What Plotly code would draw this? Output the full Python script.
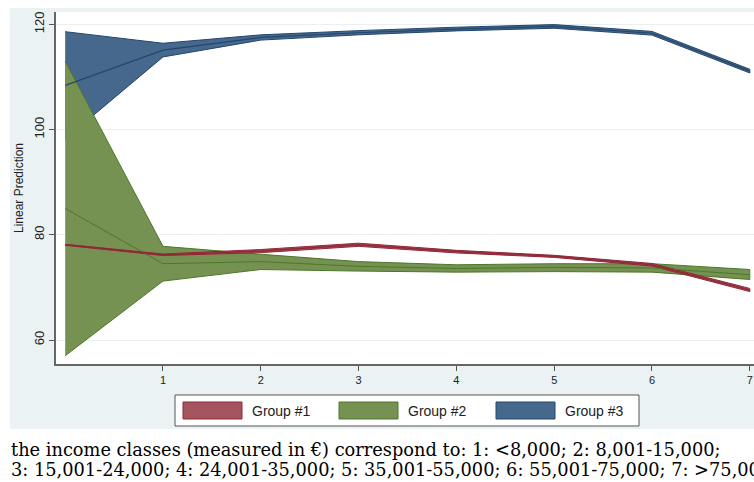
import plotly.graph_objects as go

# ---------------- data ----------------
income_class = [0, 1, 2, 3, 4, 5, 6, 7]
x_tick_vals = [1, 2, 3, 4, 5, 6, 7]
y_tick_vals = [60, 80, 100, 120]

g1_mid = [78.1, 76.2, 76.9, 78.1, 76.8, 75.9, 74.3, 69.5]
g1_lo = [78.0, 76.05, 76.6, 77.8, 76.55, 75.7, 74.05, 69.2]
g1_hi = [78.2, 76.35, 77.2, 78.4, 77.05, 76.1, 74.55, 69.8]

g2_mid = [85.0, 74.5, 74.9, 74.0, 73.6, 73.8, 73.7, 72.4]
g2_lo = [57.0, 71.2, 73.4, 73.1, 72.9, 73.0, 72.9, 71.5]
g2_hi = [113.0, 77.8, 76.3, 74.9, 74.3, 74.5, 74.5, 73.4]

g3_mid = [108.4, 115.1, 117.5, 118.4, 119.1, 119.6, 118.3, 111.1]
g3_lo = [98.2, 113.8, 117.0, 118.0, 118.75, 119.25, 117.95, 110.75]
g3_hi = [118.6, 116.4, 118.0, 118.8, 119.45, 119.95, 118.65, 111.45]

group_names = ["Group #1", "Group #2", "Group #3"]
caption_lines = [
    "the income classes (measured in \u20ac) correspond to: 1: <8,000; 2: 8,001-15,000;",
    "3: 15,001-24,000; 4: 24,001-35,000; 5: 35,001-55,000; 6: 55,001-75,000; 7: >75,000",
]

# ---------------- styles ----------------
fill_col = {"g1": "#a5555f", "g2": "#769252", "g3": "#46688c"}
edge_col = {"g1": "#912837", "g2": "#4b7828", "g3": "#23466e"}

W, H = 754, 482
ML, MR, MT, MB = 56, 0, 12, 118
PW, PH = W - ML - MR, H - MT - MB


def px(xp):  # page pixel -> paper
    return (xp - ML) / PW


def py(yp):
    return (H - MB - yp) / PH


fig = go.Figure()


def band(key, lo, hi):
    fig.add_trace(go.Scatter(
        x=income_class + income_class[::-1],
        y=hi + lo[::-1],
        fill="toself", mode="lines",
        fillcolor=fill_col[key],
        line=dict(color=edge_col[key], width=1),
        showlegend=False, hoverinfo="skip",
    ))


def mid(key, vals, name, w):
    fig.add_trace(go.Scatter(
        x=income_class, y=vals, mode="lines", name=name,
        line=dict(color=edge_col[key], width=w),
        showlegend=False,
    ))


band("g3", g3_lo, g3_hi)
band("g2", g2_lo, g2_hi)
band("g1", g1_lo, g1_hi)
mid("g2", g2_mid, group_names[1], 1)
mid("g3", g3_mid, group_names[2], 1.2)
mid("g1", g1_mid, group_names[0], 1.5)

shapes = [
    # outer graph region
    dict(type="rect", xref="paper", yref="paper", x0=px(10), x1=px(760), y0=py(429), y1=py(8),
         fillcolor="#eaf2f3", line=dict(width=0), layer="below"),
    # plot region
    dict(type="rect", xref="paper", yref="paper", x0=0, x1=1, y0=0, y1=1,
         fillcolor="white", line=dict(width=0), layer="below"),
    # legend box
    dict(type="rect", xref="paper", yref="paper", x0=px(175), x1=px(639), y0=py(426), y1=py(395),
         fillcolor="white", line=dict(color="#555555", width=1)),
]
annotations = []
sw_x = [183, 339, 496]
for k, key in enumerate(["g1", "g2", "g3"]):
    shapes.append(dict(type="rect", xref="paper", yref="paper",
                       x0=px(sw_x[k]), x1=px(sw_x[k] + 59), y0=py(419), y1=py(402),
                       fillcolor=fill_col[key], line=dict(color=edge_col[key], width=1)))
    annotations.append(dict(xref="paper", yref="paper", x=px(sw_x[k] + 67), y=py(410.5),
                            xanchor="left", yanchor="middle", showarrow=False,
                            text=group_names[k],
                            font=dict(family="Liberation Sans, Arial", size=14, color="#222")))

cap_y = [449, 469]
for k, line in enumerate(caption_lines):
    annotations.append(dict(xref="paper", yref="paper", x=px(9), y=py(cap_y[k]),
                            xanchor="left", yanchor="middle", showarrow=False,
                            text=line.replace("<", "&lt;").replace(">", "&gt;"),
                            font=dict(family="DejaVu Serif", size=17.8, color="black")))

fig.update_layout(
    width=W, height=H,
    margin=dict(l=ML, r=MR, t=MT, b=MB, pad=0),
    paper_bgcolor="white", plot_bgcolor="rgba(0,0,0,0)",
    shapes=shapes, annotations=annotations,
    font=dict(family="Liberation Sans, Arial", color="#222"),
    xaxis=dict(range=[-0.094, 7.043], tickmode="array", tickvals=x_tick_vals,
               ticks="outside", ticklen=5,
               tickcolor="#555", showline=True, linecolor="#666", linewidth=1.5,
               showgrid=False, zeroline=False, tickfont=dict(size=11), automargin=False,
               ticklabeloverflow="allow"),
    yaxis=dict(range=[55.44, 122.34], tickvals=y_tick_vals, tickangle=-90, ticks="outside",
               ticklen=5, tickcolor="#555", showline=True, linecolor="#666", linewidth=1.5,
               showgrid=True, gridcolor="#e9f0f2", gridwidth=1, zeroline=False,
               tickfont=dict(size=13), automargin=False,
               title=dict(text="Linear Prediction", font=dict(size=12), standoff=6)),
)

# remove the default page margin so the 754x482 figure fills the window exactly
fig.write_html(
    "out.html",
    config={"displayModeBar": False},
    post_script="document.body.style.margin='0';document.body.style.overflow='hidden';",
)
